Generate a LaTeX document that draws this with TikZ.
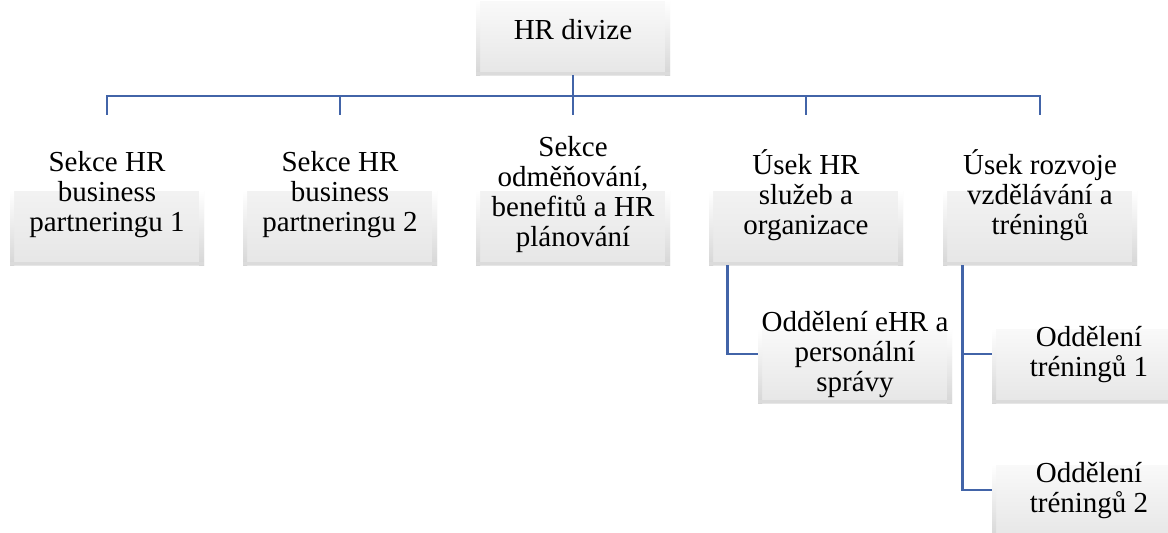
\documentclass[tikz,border=0pt]{standalone}
\usepackage{fontspec}
\setmainfont{Liberation Serif}
\definecolor{linkblue}{RGB}{66,100,168}
\definecolor{boxgrey}{RGB}{230,230,230}
\definecolor{edgegrey}{RGB}{214,214,214}
\begin{document}
\begin{tikzpicture}[x=1pt,y=-1pt,
  unit/.style={rectangle, inner sep=0pt, minimum width=194pt,
    path picture={
      % soft grey body fading upward into white
      \fill[top color=white, bottom color=boxgrey]
        ([yshift=74pt]path picture bounding box.south west)
        rectangle (path picture bounding box.south east);
      % bevelled side and bottom edges
      \fill[top color=white, bottom color=edgegrey]
        ([yshift=74pt]path picture bounding box.south west)
        rectangle ([xshift=4pt]path picture bounding box.south west);
      \fill[top color=white, bottom color=edgegrey]
        ([yshift=74pt,xshift=-5pt]path picture bounding box.south east)
        rectangle (path picture bounding box.south east);
      \fill[edgegrey!70!boxgrey]
        ([yshift=3pt]path picture bounding box.south west)
        rectangle (path picture bounding box.south east);
    }},
  txt/.style={inner sep=0pt, align=center, font=\fontsize{29}{30}\selectfont,
    execute at begin node={\rule{0pt}{30pt}},
    execute at end node={\rule[-6pt]{0pt}{6pt}}},
  head/.style={unit, minimum height=96pt},
  lvl/.style={unit, minimum height=150pt},
  sub/.style={unit, minimum height=98pt},
  lvltxt/.style={txt, yshift=-5pt},
  subtxt/.style={txt, yshift=-1pt},
  link/.style={draw=linkblue, line width=2.8pt, line join=miter}
]
\clip (0,0) rectangle (1168,533);

% top unit
\node[head, label={[txt]center:{HR divize}}] (hr) at (573,27) {};

% second level
\node[lvl, label={[lvltxt]center:{Sekce HR\\business\\partneringu 1}}] (l1) at (107,190) {};
\node[lvl, label={[lvltxt]center:{Sekce HR\\business\\partneringu 2}}] (l2) at (340,190) {};
\node[lvl, label={[lvltxt]center:{Sekce\\odměňování,\\benefitů a HR\\plánování}}] (l3) at (573,190) {};
\node[lvl, label={[lvltxt]center:{Úsek HR\\služeb a\\organizace}}] (l4) at (806,190) {};
\node[lvl, label={[lvltxt]center:{Úsek rozvoje\\vzdělávání a\\tréningů}}] (l5) at (1040,190) {};

% departments
\node[sub, label={[subtxt]center:{Oddělení eHR a\\personální\\správy}}] (s1) at (855,354) {};
\node[sub, label={[subtxt]center:{Oddělení\\tréningů 1}}] (t1) at (1089,354) {};
\node[sub, label={[subtxt]center:{Oddělení\\tréningů 2}}] (t2) at (1089,490) {};

% connectors
\coordinate (bus) at (573,96);
\draw[link] (hr.south) -- (hr.south |- bus);
\draw[link] (l1.north) -- (l1.north |- bus) -- (l5.north |- bus) -- (l5.north);
\foreach \n in {l2,l3,l4}
  \draw[link] (\n.north) -- (\n.north |- bus);

\draw[link] ([xshift=19pt]l4.south west) |- (s1.west);
\draw[link] ([xshift=20pt]l5.south west) |- (t2.west);
\draw[link] ([xshift=20pt]l5.south west |- t1.west) -- (t1.west);
\end{tikzpicture}
\end{document}
